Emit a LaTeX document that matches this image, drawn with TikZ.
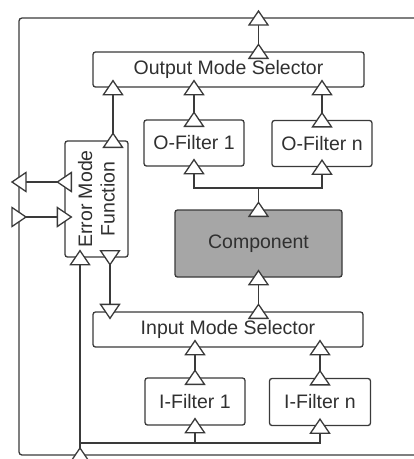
\documentclass[tikz,border=0pt]{standalone}
\usepackage{fontspec}
\setmainfont{Liberation Sans}
\definecolor{linec}{HTML}{3A3A3A}
\definecolor{txt}{HTML}{303030}
\definecolor{compfill}{HTML}{A6A6A6}
\begin{document}
\begin{tikzpicture}[x=1pt,y=-1pt,
  box/.style={draw=linec, line width=1.3pt, rounded corners=2.5pt, fill=white,
    text=txt, font=\fontsize{19.5}{22.5}\selectfont, inner sep=0pt},
  wire/.style={draw=linec, line width=1.3pt},
  tri/.style={draw=linec, fill=white, line width=1.3pt, line join=miter},
  portup/.pic={\draw[tri] (0,-7) -- (9.5,7) -- (-9.5,7) -- cycle;},
  portdown/.pic={\draw[tri] (0,7) -- (9.5,-7) -- (-9.5,-7) -- cycle;},
  portleft/.pic={\draw[tri] (-7,0) -- (7,-9.5) -- (7,9.5) -- cycle;},
  portright/.pic={\draw[tri] (7,0) -- (-7,-9.5) -- (-7,9.5) -- cycle;}]
\useasboundingbox (0,0) rectangle (414,459);

% outer feedback loop
\coordinate (tl) at (19,18);
\coordinate (tr) at (414,18);
\coordinate (bl) at (19,455);
\coordinate (br) at (414,455);
\draw[wire, rounded corners=3pt] (tr) -- (tl) -- (bl) -- (br);

% blocks
\node[box, minimum width=271, minimum height=35] (oms) at (228.5,69.5) {Output Mode Selector};
\node[box, minimum width=100, minimum height=46] (of1) at (194,143) {O-Filter 1};
\node[box, minimum width=100, minimum height=46] (ofn) at (322,143.5) {O-Filter n};
\node[box, minimum width=63, minimum height=116] (emf) at (96.5,199) {};
\node[rotate=90, align=center, text=txt, inner sep=0pt,
  font=\fontsize{19.5}{22.5}\selectfont] (emft) at (emf.center) {Error Mode\\Function};
\node[box, fill=compfill, minimum width=167, minimum height=67] (comp) at (258.5,243.5) {Component};
\node[box, minimum width=270, minimum height=35] (ims) at (228,329.5) {Input Mode Selector};
\node[box, minimum width=100, minimum height=47] (if1) at (195,401.5) {I-Filter 1};
\node[box, minimum width=101, minimum height=47] (ifn) at (320,402) {I-Filter n};

% port points on the error mode function
\coordinate (emfT) at ([xshift=16.5pt]emf.north);
\coordinate (emfB1) at ([xshift=-16.5pt]emf.south);
\coordinate (emfB2) at ([xshift=13.5pt]emf.south);
\coordinate (emfL1) at (emf.west |- 0,182);
\coordinate (emfL2) at (emf.west |- 0,217);
\coordinate (bus) at (emfB1 |- 0,443);
\coordinate (split) at (comp.north |- 0,188);

% connectors
\draw[wire] (comp.north |- oms.north) -- (comp.north |- tl);
\draw[wire] (emfT) -- (emfT |- oms.south);
\draw[wire] (of1.north) -- (of1.north |- oms.south);
\draw[wire] (ofn.north) -- (ofn.north |- oms.south);
\draw[wire] (comp.north) -- (split);
\draw[wire] (of1.south) |- (split) -| (ofn.south);
\draw[wire] (comp.south |- ims.north) -- (comp.south);
\draw[wire] (if1.north) -- (if1.north |- ims.south);
\draw[wire] (ifn.north) -- (ifn.north |- ims.south);
\draw[wire] (bus) -| (ifn.south);
\draw[wire] (if1.south) -- (if1.south |- bus);
\draw[wire] (emfB1 |- bl) -- (emfB1);
\draw[wire] (emfB2) -- (emfB2 |- ims.north);
\draw[wire] (emfL1) -- (emfL1 -| tl);
\draw[wire] (emfL2 -| tl) -- (emfL2);

% port markers
\foreach \p in {{comp.north |- oms.north},{comp.north |- tl},{emfT},{emfT |- oms.south},
  {of1.north},{of1.north |- oms.south},{ofn.north},{ofn.north |- oms.south},
  {comp.north},{of1.south},{ofn.south},{comp.south},{comp.south |- ims.north},
  {if1.north},{if1.north |- ims.south},{ifn.north},{ifn.north |- ims.south},
  {if1.south},{ifn.south},{emfB1},{emfB1 |- bl}}
  \pic at (\p) {portup};
\pic at (emfB2) {portdown};
\pic at (emfB2 |- ims.north) {portdown};
\pic at (emfL1) {portleft};
\pic at (emfL1 -| tl) {portleft};
\pic at (emfL2) {portright};
\pic at (emfL2 -| tl) {portright};
\end{tikzpicture}
\end{document}
